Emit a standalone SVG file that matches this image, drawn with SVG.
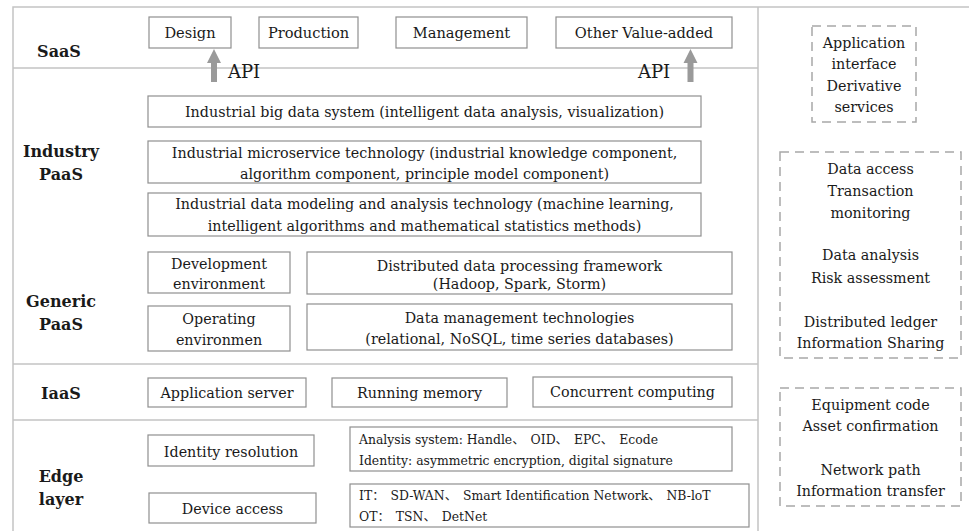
<svg xmlns="http://www.w3.org/2000/svg" width="969" height="531" viewBox="0 0 969 531" font-family="'DejaVu Serif', 'Liberation Serif', serif">
<defs>
<style>
.frame{fill:none;stroke:#c4c4c4;stroke-width:1.5}
.box{fill:#fff;stroke:#8f8f8f;stroke-width:1.2}
.dash{fill:none;stroke:#a8a8a8;stroke-width:1.5;stroke-dasharray:9,6}
text{fill:#1a1a1a}
.t{font-size:14.3px;text-anchor:middle}
.top{font-size:14.6px}
.s{font-size:12.4px}
.cj{font-family:"Noto Sans CJK SC",sans-serif;letter-spacing:6px}
.lbl{font-size:16px;font-weight:bold;text-anchor:middle}
.api{font-size:18px}
.arr{fill:#9a9a9a}
</style>
</defs>
<rect width="969" height="531" fill="#fff"/>
<g id="frame">
<path class="frame" d="M13,531 V7 H969 M758,7 V531 M13,68 H758 M13,364 H758 M13,420 H758"/>
</g>
<g id="labels">
<text class="lbl" x="59" y="57">SaaS</text>
<text class="lbl" x="61" y="157">Industry</text>
<text class="lbl" x="61" y="180">PaaS</text>
<text class="lbl" x="61" y="307">Generic</text>
<text class="lbl" x="61" y="330">PaaS</text>
<text class="lbl" x="61" y="399">IaaS</text>
<text class="lbl" x="61" y="482">Edge</text>
<text class="lbl" x="61" y="505">layer</text>
</g>
<g id="design"><rect class="box" x="149" y="17" width="82" height="31"/><text class="t top" x="190" y="38">Design</text></g>
<g id="production"><rect class="box" x="259" y="17" width="99" height="31"/><text class="t top" x="308.5" y="38">Production</text></g>
<g id="management"><rect class="box" x="396" y="17" width="131" height="31"/><text class="t top" x="461.5" y="38">Management</text></g>
<g id="other"><rect class="box" x="556" y="17" width="176" height="31"/><text class="t top" x="644" y="38">Other Value-added</text></g>
<g id="connectors">
<path class="arr" d="M214,49 L221,63 L217,63 L217,82 L211,82 L211,63 L207,63 Z"/>
<path class="arr" d="M690.5,49 L697.5,63 L693.5,63 L693.5,82 L687.5,82 L687.5,63 L683.5,63 Z"/>
<text class="api" x="228" y="78">API</text>
<text class="api" x="638" y="78">API</text>
</g>
<g id="bigdata"><rect class="box" x="148" y="96" width="553" height="31"/><text class="t" x="424.5" y="117">Industrial big data system (intelligent data analysis, visualization)</text></g>
<g id="microservice"><rect class="box" x="148" y="141" width="553" height="42"/><text class="t" x="424.5" y="158">Industrial microservice technology (industrial knowledge component,</text><text class="t" x="424.5" y="179">algorithm component, principle model component)</text></g>
<g id="modeling"><rect class="box" x="148" y="193" width="553" height="43"/><text class="t" x="424.5" y="209">Industrial data modeling and analysis technology (machine learning,</text><text class="t" x="424.5" y="231">intelligent algorithms and mathematical statistics methods)</text></g>
<g id="development"><rect class="box" x="148" y="252" width="142" height="41"/><text class="t" x="219" y="269">Development</text><text class="t" x="219" y="289">environment</text></g>
<g id="operating"><rect class="box" x="148" y="306" width="142" height="45"/><text class="t" x="219" y="324">Operating</text><text class="t" x="219" y="345">environmen</text></g>
<g id="distributed"><rect class="box" x="307" y="252" width="425" height="42"/><text class="t" x="519.5" y="271">Distributed data processing framework</text><text class="t" x="519.5" y="289">(Hadoop, Spark, Storm)</text></g>
<g id="datamgmt"><rect class="box" x="307" y="304" width="425" height="46"/><text class="t" x="519.5" y="323">Data management technologies</text><text class="t" x="519.5" y="344">(relational, NoSQL, time series databases)</text></g>
<g id="appserver"><rect class="box" x="148" y="378" width="158" height="29"/><text class="t" x="227" y="398">Application server</text></g>
<g id="memory"><rect class="box" x="332" y="378" width="175" height="29"/><text class="t" x="419.5" y="398">Running memory</text></g>
<g id="concurrent"><rect class="box" x="533" y="377" width="199" height="30"/><text class="t" x="632.5" y="397">Concurrent computing</text></g>
<g id="identity"><rect class="box" x="148" y="435" width="166" height="31"/><text class="t" x="231" y="457">Identity resolution</text></g>
<g id="device"><rect class="box" x="149" y="493" width="167" height="30"/><text class="t" x="232.5" y="514">Device access</text></g>
<g id="analysis"><rect class="box" x="350" y="427" width="382" height="44"/><text class="s" x="359" y="444">Analysis system: Handle<tspan class="cj">、</tspan>OID<tspan class="cj">、</tspan>EPC<tspan class="cj">、</tspan>Ecode</text><text class="s" x="359" y="465">Identity: asymmetric encryption, digital signature</text></g>
<g id="network"><rect class="box" x="350" y="484" width="399" height="43"/><text class="s" x="359" y="500">IT<tspan class="cj">：</tspan>SD-WAN<tspan class="cj">、</tspan>Smart Identification Network<tspan class="cj">、</tspan>NB-loT</text><text class="s" x="359" y="521">OT<tspan class="cj">：</tspan>TSN<tspan class="cj">、</tspan>DetNet</text></g>
<g id="side1"><rect class="dash" x="812" y="26" width="104" height="96"/><text class="t" x="864" y="48">Application</text><text class="t" x="864" y="69">interface</text><text class="t" x="864" y="91">Derivative</text><text class="t" x="864" y="112">services</text></g>
<g id="side2"><rect class="dash" x="780" y="152" width="181" height="206"/><text class="t" x="870.5" y="174">Data access</text><text class="t" x="870.5" y="196">Transaction</text><text class="t" x="870.5" y="218">monitoring</text><text class="t" x="870.5" y="260">Data analysis</text><text class="t" x="870.5" y="283">Risk assessment</text><text class="t" x="870.5" y="327">Distributed ledger</text><text class="t" x="870.5" y="348">Information Sharing</text></g>
<g id="side3"><rect class="dash" x="780" y="388" width="181" height="118"/><text class="t" x="870.5" y="410">Equipment code</text><text class="t" x="870.5" y="431">Asset confirmation</text><text class="t" x="870.5" y="475">Network path</text><text class="t" x="870.5" y="496">Information transfer</text></g>
</svg>
